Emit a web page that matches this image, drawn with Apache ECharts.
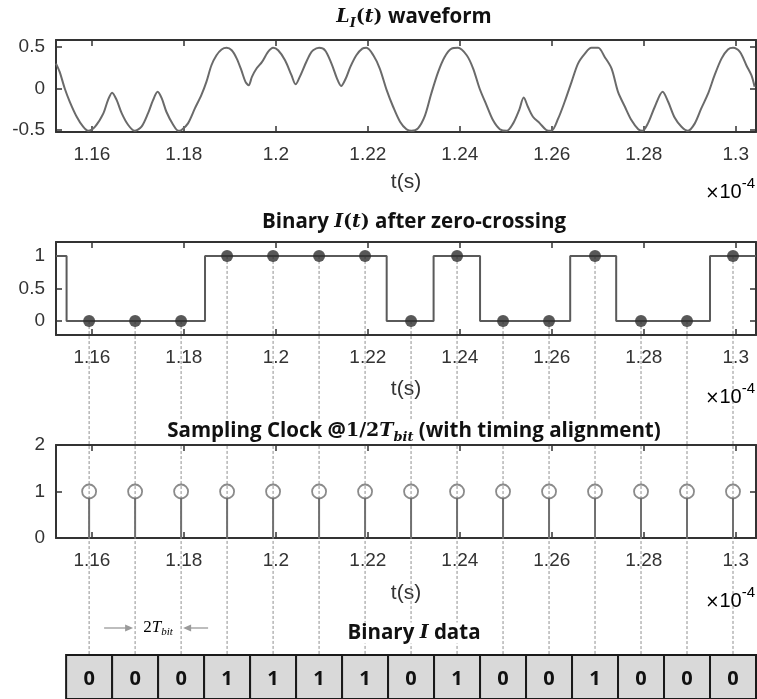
<!DOCTYPE html>
<html>
<head>
<meta charset="utf-8">
<script src="https://cdn.jsdelivr.net/npm/echarts@6/dist/echarts.min.js"></script>
<style>
html, body { margin: 0; padding: 0; background: #fff; }
#main { width: 757px; height: 699px; }
</style>
</head>
<body>
<div id="main"></div>
<script>
// time axis, in units of 1e-4 s
var tMin = 1.1522, tMax = 1.3044;
var tTicks = [1.16, 1.18, 1.2, 1.22, 1.24, 1.26, 1.28, 1.3];

// L_I(t) waveform
var waveT = [1.1522,1.1530,1.1541,1.1552,1.1567,1.1581,1.1592,1.1607,1.1625,1.1635,
  1.1644,1.1654,1.1665,1.1679,1.1693,1.1708,1.1722,1.1733,1.1743,1.1752,
  1.1762,1.1777,1.1788,1.1795,1.1809,1.1824,1.1838,1.1849,1.1860,1.1871,
  1.1882,1.1893,1.1904,1.1915,1.1925,1.1934,1.1941,1.1948,1.1958,1.1970,
  1.1983,1.1994,1.2005,1.2020,1.2034,1.2043,1.2052,1.2063,1.2074,1.2081,
  1.2094,1.2107,1.2121,1.2133,1.2142,1.2152,1.2162,1.2175,1.2188,1.2197,
  1.2212,1.2226,1.2241,1.2255,1.2270,1.2284,1.2295,1.2309,1.2324,1.2338,
  1.2353,1.2367,1.2382,1.2396,1.2415,1.2429,1.2443,1.2458,1.2472,1.2487,
  1.2502,1.2516,1.2529,1.2539,1.2548,1.2559,1.2574,1.2588,1.2599,1.2614,
  1.2628,1.2643,1.2657,1.2672,1.2686,1.2701,1.2715,1.2730,1.2744,1.2759,
  1.2773,1.2788,1.2797,1.2809,1.2824,1.2841,1.2853,1.2867,1.2882,1.2896,
  1.2911,1.2925,1.2940,1.2954,1.2969,1.2983,1.2994,1.3009,1.3023,1.3034,
  1.3041];
var waveV = [0.30,0.20,0.00,-0.16,-0.34,-0.46,-0.51,-0.46,-0.30,-0.14,
  -0.05,-0.14,-0.30,-0.44,-0.51,-0.46,-0.30,-0.14,-0.04,-0.12,
  -0.28,-0.44,-0.51,-0.50,-0.42,-0.24,-0.08,0.08,0.28,0.40,
  0.47,0.49,0.46,0.36,0.22,0.08,0.04,0.14,0.24,0.32,
  0.44,0.49,0.46,0.34,0.16,0.05,0.14,0.28,0.41,0.46,
  0.49,0.46,0.30,0.12,0.03,0.12,0.26,0.40,0.48,0.49,
  0.40,0.24,-0.02,-0.22,-0.40,-0.49,-0.51,-0.48,-0.33,-0.06,
  0.20,0.38,0.48,0.49,0.40,0.24,0.00,-0.20,-0.38,-0.49,
  -0.51,-0.42,-0.26,-0.11,-0.22,-0.34,-0.42,-0.50,-0.51,-0.36,
  -0.16,0.08,0.30,0.42,0.49,0.49,0.38,0.24,-0.04,-0.22,
  -0.38,-0.49,-0.51,-0.42,-0.22,-0.04,-0.16,-0.35,-0.46,-0.51,
  -0.42,-0.24,-0.06,0.16,0.36,0.47,0.49,0.44,0.28,0.16,
  0.02];

// zero-crossing output: time where each level starts
var stepT = [1.1522, 1.1545, 1.1846, 1.2241, 1.2343, 1.2444, 1.2640, 1.2740, 1.2944, 1.3044];
var stepV = [1, 0, 1, 0, 1, 0, 1, 0, 1, 1];

// sampling instants, one every 2Tbit
var sampleT = [1.1594, 1.1694, 1.1794, 1.1894, 1.1994, 1.2094, 1.2194, 1.2294,
  1.2394, 1.2494, 1.2594, 1.2694, 1.2794, 1.2894, 1.2994];
var sampledBits = [0, 0, 0, 1, 1, 1, 1, 0, 1, 0, 0, 1, 0, 0, 1];
var clockV = [1, 1, 1, 1, 1, 1, 1, 1, 1, 1, 1, 1, 1, 1, 1];
var dataBits = [0, 0, 0, 1, 1, 1, 1, 0, 1, 0, 0, 1, 0, 0, 0];
var bitPeriod = 0.01;

var boxTop = 655;
var axisColor = '#333';
var labelStyle = { fontFamily: 'Liberation Sans', fontSize: 19, color: '#333' };

function zip(a, b) {
  return a.map(function (v, i) { return [v, b[i]]; });
}

function fmt(v) { return String(+v.toFixed(2)); }

function xAxes(grid, nameGap) {
  var line = { show: true, onZero: false, lineStyle: { color: axisColor, width: 2 } };
  var tick = { show: true, inside: true, length: 6, customValues: tTicks, lineStyle: { color: axisColor, width: 1.5 } };
  return [
    { gridIndex: grid, type: 'value', position: 'bottom', min: tMin, max: tMax,
      axisLine: line, axisTick: tick, splitLine: { show: false },
      axisLabel: Object.assign({ customValues: tTicks, margin: 13, formatter: fmt }, labelStyle),
      name: 't(s)', nameLocation: 'middle', nameGap: nameGap,
      nameTextStyle: { fontFamily: 'Liberation Sans', fontSize: 21, color: '#333' } },
    { gridIndex: grid, type: 'value', position: 'top', min: tMin, max: tMax,
      axisLine: line, axisTick: tick, splitLine: { show: false }, axisLabel: { show: false } }
  ];
}

function yAxes(grid, min, max, ticks) {
  var line = { show: true, onZero: false, lineStyle: { color: axisColor, width: 2 } };
  var tick = { show: true, inside: true, length: 6, customValues: ticks, lineStyle: { color: axisColor, width: 1.5 } };
  return [
    { gridIndex: grid, type: 'value', position: 'left', min: min, max: max,
      axisLine: line, axisTick: tick, splitLine: { show: false },
      axisLabel: Object.assign({ customValues: ticks, margin: 11, formatter: fmt }, labelStyle) },
    { gridIndex: grid, type: 'value', position: 'right', min: min, max: max,
      axisLine: line, axisTick: tick, splitLine: { show: false }, axisLabel: { show: false } }
  ];
}

var titleRich = {
  b: { fontFamily: 'Open Sans', fontWeight: 'bold', fontSize: 20.5, color: '#111', lineHeight: 26 },
  m: { fontFamily: 'DejaVu Serif', fontWeight: 'bold', fontStyle: 'italic', fontSize: 19, color: '#111', lineHeight: 26 },
  u: { fontFamily: 'DejaVu Serif', fontWeight: 'bold', fontSize: 19, color: '#111', lineHeight: 26 },
  s: { fontFamily: 'DejaVu Serif', fontWeight: 'bold', fontStyle: 'italic', fontSize: 13, color: '#111', lineHeight: 14, verticalAlign: 'bottom' }
};

function mkTitle(text, top) {
  return { text: text, left: 410, top: top, textAlign: 'center', padding: [0, 4],
    backgroundColor: '#fff', textStyle: { rich: titleRich } };
}

function expLabel(id, y) {
  return { id: id, type: 'text', x: 755, y: y, z: 10,
    style: { text: '{x|×}{n|10}{s|-4}', align: 'right', verticalAlign: 'middle',
      rich: {
        x: { fontFamily: 'DejaVu Sans', fontSize: 17, color: '#555', lineHeight: 26, verticalAlign: 'bottom' },
        n: { fontFamily: 'Liberation Sans', fontSize: 20, color: '#555', lineHeight: 24, verticalAlign: 'bottom' },
        s: { fontFamily: 'Liberation Sans', fontSize: 15, color: '#555', lineHeight: 14, verticalAlign: 'top' }
      } } };
}

var myChart = echarts.init(document.getElementById('main'));

var option = {
  animation: false,
  backgroundColor: '#fff',
  title: [
    mkTitle('{m|L}{s|I}{u|(}{m|t}{u|)}{b| waveform}', 4),
    mkTitle('{b|Binary }{m|I}{u|(}{m|t}{u|)}{b| after zero-crossing}', 209),
    mkTitle('{b|Sampling Clock @}{u|1/2}{m|T}{s|bit}{b| (with timing alignment)}', 418),
    mkTitle('{b|Binary }{m|I}{b| data}', 620)
  ],
  grid: [
    { left: 56, top: 40, width: 700, height: 92 },
    { left: 56, top: 242, width: 700, height: 93 },
    { left: 56, top: 445, width: 700, height: 93 },
    { left: 56, top: boxTop, width: 700, height: 50 }
  ],
  xAxis: [].concat(
    xAxes(0, 40), xAxes(1, 44), xAxes(2, 45),
    [{ gridIndex: 3, type: 'value', min: tMin, max: tMax, show: false }]
  ),
  yAxis: [].concat(
    yAxes(0, -0.524, 0.584, [-0.5, 0, 0.5]),
    yAxes(1, -0.214, 1.214, [0, 0.5, 1]),
    yAxes(2, 0, 2, [0, 1, 2]),
    [{ gridIndex: 3, type: 'value', min: 0, max: 1, show: false }]
  ),
  graphic: [expLabel('e1', 189), expLabel('e2', 394), expLabel('e3', 598)],
  series: [
    {
      name: 'LI', type: 'line', xAxisIndex: 0, yAxisIndex: 0,
      data: zip(waveT, waveV), showSymbol: false, smooth: 0.3,
      lineStyle: { color: '#6a6a6a', width: 2 }
    },
    {
      name: 'guides', type: 'custom', xAxisIndex: 2, yAxisIndex: 2, clip: false, z: 1, silent: true,
      data: zip(sampleT, sampledBits),
      renderItem: function (params, api) {
        var p = api.coord([api.value(0), api.value(1)]);
        return { type: 'line', shape: { x1: p[0], y1: p[1], x2: p[0], y2: boxTop },
          style: { stroke: '#8f8f8f', lineWidth: 1, lineDash: [3, 2] } };
      }
    },
    {
      name: 'I(t)', type: 'line', xAxisIndex: 2, yAxisIndex: 2, step: 'end',
      data: zip(stepT, stepV), showSymbol: false, z: 3,
      lineStyle: { color: '#5a5a5a', width: 2 }
    },
    {
      name: 'samples', type: 'scatter', xAxisIndex: 2, yAxisIndex: 2, z: 4,
      data: zip(sampleT, sampledBits), symbolSize: 12,
      itemStyle: { color: '#2e2e2e' }
    },
    {
      name: 'stems', type: 'custom', xAxisIndex: 4, yAxisIndex: 4, z: 3,
      data: zip(sampleT, clockV),
      renderItem: function (params, api) {
        var p0 = api.coord([api.value(0), 0]);
        var p1 = api.coord([api.value(0), api.value(1)]);
        return { type: 'line', shape: { x1: p0[0], y1: p0[1], x2: p1[0], y2: p1[1] + 6.5 },
          style: { stroke: '#707070', lineWidth: 2 } };
      }
    },
    {
      name: 'clock', type: 'scatter', xAxisIndex: 4, yAxisIndex: 4, z: 4,
      data: zip(sampleT, clockV), symbol: 'circle', symbolSize: 14,
      itemStyle: { color: 'rgba(255,255,255,0)', borderColor: '#6e6e6e', borderWidth: 1.8 }
    },
    {
      name: 'bits', type: 'custom', xAxisIndex: 6, yAxisIndex: 6, z: 5, clip: false,
      data: zip(sampleT, dataBits),
      renderItem: function (params, api) {
        var t = api.value(0);
        var a = api.coord([t - bitPeriod / 2, 1]);
        var b = api.coord([t + bitPeriod / 2, 0]);
        return { type: 'group', children: [
          { type: 'rect', shape: { x: a[0], y: a[1], width: b[0] - a[0], height: b[1] - a[1] },
            style: { fill: '#d9d9d9', stroke: '#1a1a1a', lineWidth: 2 } },
          { type: 'text', x: (a[0] + b[0]) / 2, y: (a[1] + b[1]) / 2 + 2,
            style: { text: String(api.value(1)), align: 'center', verticalAlign: 'middle',
              fontFamily: 'Open Sans', fontWeight: 'bold', fontSize: 20, fill: '#111' } }
        ] };
      }
    }
  ]
};

myChart.setOption(option);

// 2Tbit marker between the 2nd and 3rd sampling instants
var xa = myChart.convertToPixel({ xAxisIndex: 0 }, sampleT[1]);
var xb = myChart.convertToPixel({ xAxisIndex: 0 }, sampleT[2]);
var ay = 628;
var grey = '#9a9a9a';
myChart.setOption({
  graphic: [
    { id: 'a1', type: 'line', shape: { x1: xa - 31, y1: ay, x2: xa - 8, y2: ay }, style: { stroke: grey, lineWidth: 1.3 }, z: 10 },
    { id: 'h1', type: 'polygon', shape: { points: [[xa - 2, ay], [xa - 10, ay - 3.5], [xa - 10, ay + 3.5]] }, style: { fill: grey }, z: 10 },
    { id: 'a2', type: 'line', shape: { x1: xb + 27, y1: ay, x2: xb + 8, y2: ay }, style: { stroke: grey, lineWidth: 1.3 }, z: 10 },
    { id: 'h2', type: 'polygon', shape: { points: [[xb + 2, ay], [xb + 10, ay - 3.5], [xb + 10, ay + 3.5]] }, style: { fill: grey }, z: 10 },
    { id: 'tb', type: 'text', x: (xa + xb) / 2, y: ay, z: 10,
      style: { text: '{u|2}{t|T}{s|bit}', align: 'center', verticalAlign: 'middle',
        rich: {
          u: { fontFamily: 'Liberation Serif', fontSize: 17, color: grey, lineHeight: 20 },
          t: { fontFamily: 'Liberation Serif', fontStyle: 'italic', fontSize: 17, color: grey, lineHeight: 20 },
          s: { fontFamily: 'Liberation Serif', fontStyle: 'italic', fontSize: 11, color: grey, lineHeight: 11, verticalAlign: 'bottom' }
        } } }
  ]
});
</script>
</body>
</html>
